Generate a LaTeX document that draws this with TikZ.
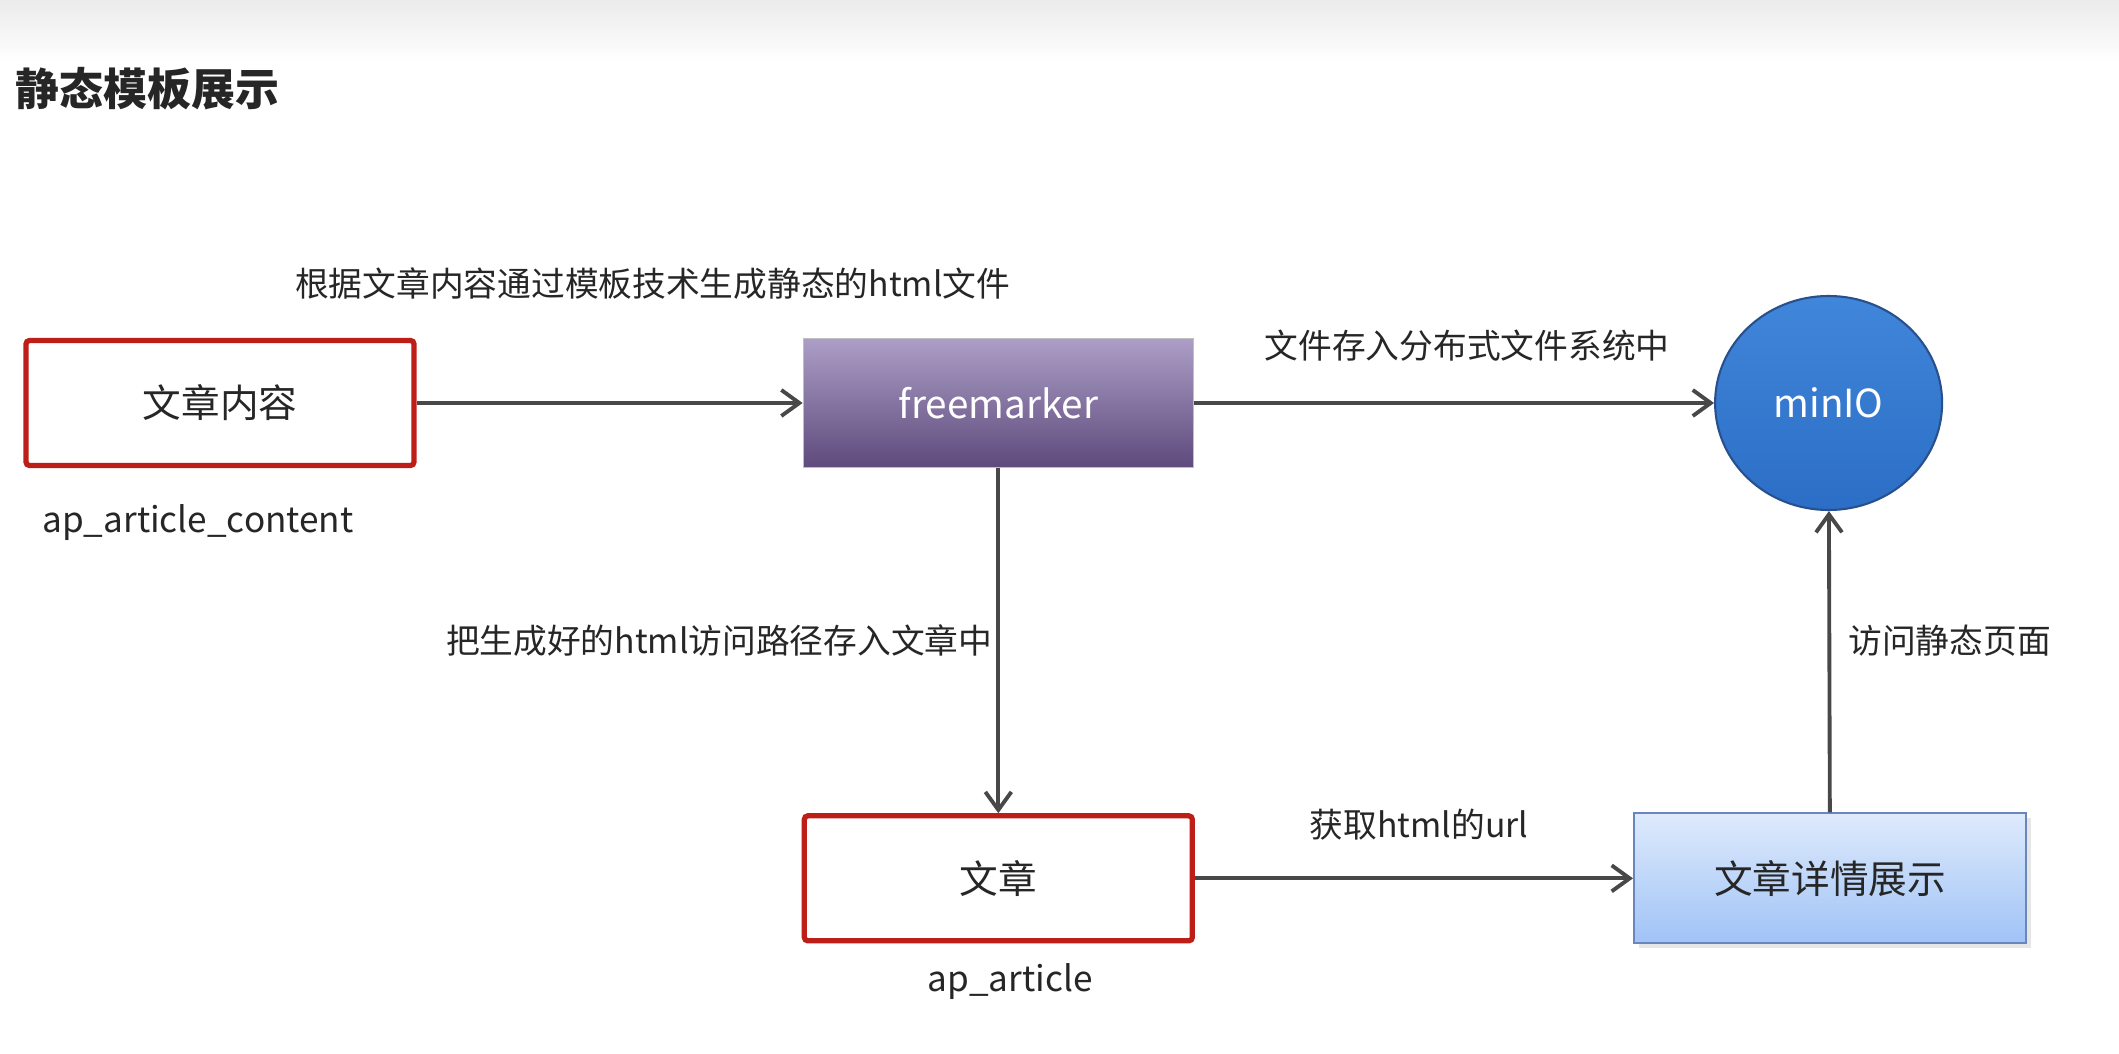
\documentclass[tikz,border=0pt]{standalone}
\usepackage{fontspec}
\setmainfont{Noto Sans CJK SC}
\usetikzlibrary{positioning, shapes.geometric, arrows.meta, shadows}

\definecolor{boxred}{RGB}{190,30,24}
\definecolor{fmtop}{RGB}{172,158,198}
\definecolor{fmbot}{RGB}{94,74,124}
\definecolor{miniotop}{RGB}{64,134,218}
\definecolor{miniobot}{RGB}{44,110,198}
\definecolor{minioedge}{RGB}{40,80,140}
\definecolor{detailtop}{RGB}{222,234,252}
\definecolor{detailbot}{RGB}{160,195,246}
\definecolor{detailedge}{RGB}{105,135,190}
\definecolor{linegray}{RGB}{72,72,72}
\definecolor{textgray}{RGB}{38,38,38}

\begin{document}
\begin{tikzpicture}[
  % Node Styles
  redbox/.style={rectangle, rounded corners=1pt, draw=boxred, line width=1.5pt, fill=white, minimum width=3.88cm, minimum height=1.25cm, text=textgray, font=\fontsize{11}{13}\selectfont},
  fmbox/.style={rectangle, draw=gray!50, line width=0.4pt, top color=fmtop, bottom color=fmbot, minimum width=3.90cm, minimum height=1.29cm, text=white, font=\fontsize{11}{13}\selectfont},
  minionode/.style={ellipse, draw=minioedge, line width=0.6pt, top color=miniotop, bottom color=miniobot, minimum width=2.27cm, minimum height=2.14cm, text=white, font=\fontsize{11}{13}\selectfont},
  detailbox/.style={rectangle, draw=detailedge, line width=0.6pt, top color=detailtop, bottom color=detailbot, minimum width=3.92cm, minimum height=1.30cm, text=textgray, font=\fontsize{11}{13}\selectfont, drop shadow={opacity=0.2, shadow xshift=0.05cm, shadow yshift=-0.05cm}},
  tablename/.style={text=textgray, font=\fontsize{10}{12}\selectfont, inner sep=0pt},
  titletext/.style={text=textgray, font=\fontsize{12.5}{14}\selectfont\bfseries, inner sep=0pt, anchor=west},
  % Arrow Styles
  solidarrow/.style={-{Straight Barb[length=1.8mm, width=2.6mm]}, line width=1.1pt, draw=linegray},
  textarrow/.style={text=textgray, font=\fontsize{9.6}{12}\selectfont, inner sep=0pt}
]
\useasboundingbox (0,0) rectangle (21.19,-10.54);
\fill[top color=gray!16, bottom color=white, draw=none] (0,0) rectangle (21.19,-0.62);

% Title
\node[titletext] (title) at (0.15,-0.89) {静态模板展示};

% Nodes
\node[redbox] (content) at (2.20,-4.03) {文章内容};
\node[fmbox, right=3.86cm of content] (fm) {freemarker};
\node[minionode, right=5.20cm of fm] (minio) {minIO};
\node[redbox, below=3.45cm of fm] (art) {文章};
\node[detailbox, right=4.38cm of art] (detail) {文章详情展示};

% Table names
\node[tablename] (contenttable) at (1.98,-5.23) {ap\_article\_content};
\node[tablename] (arttable) at (10.10,-9.82) {ap\_article};

% Arrows
\draw[solidarrow] (content) -- node[midway, textarrow, xshift=0.43cm, yshift=1.19cm] (labelgen) {根据文章内容通过模板技术生成静态的html文件} (fm);
\draw[solidarrow] (fm) -- node[midway, textarrow, xshift=0.13cm, yshift=0.57cm] (labelstore) {文件存入分布式文件系统中} (minio);
\draw[solidarrow] (fm) -- node[midway, textarrow, anchor=east, xshift=-0.04cm] (labelpath) {把生成好的html访问路径存入文章中} (art);
\draw[solidarrow] (art) -- node[midway, textarrow, xshift=0.05cm, yshift=0.54cm] (labelurl) {获取html的url} (detail);
\draw[solidarrow] (detail) -- node[midway, textarrow, anchor=west, xshift=0.17cm, yshift=0.21cm] (labelvisit) {访问静态页面} (minio);

\end{tikzpicture}
\end{document}
